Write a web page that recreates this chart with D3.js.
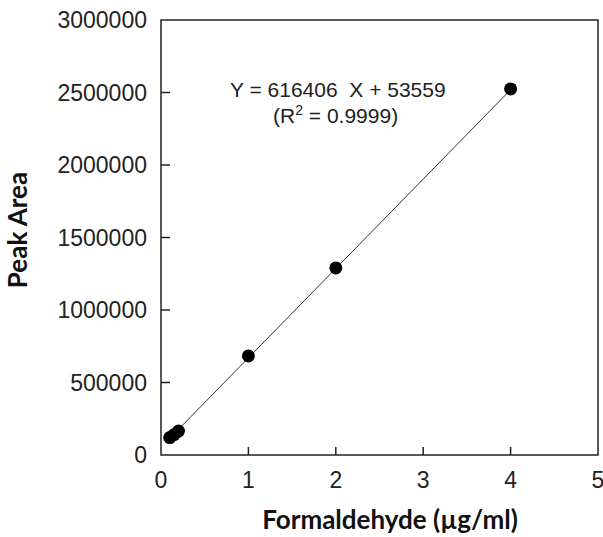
<!DOCTYPE html>
<html lang="en">
<head>
    <meta charset="UTF-8">
    <title>Formaldehyde calibration curve</title>
    <script src="https://d3js.org/d3.v7.min.js"></script>
    <style>
        body { margin: 0; background: #fff; }
        .tick-label { font-family: "Liberation Sans", Arial, sans-serif; font-size: 23px; fill: #222; }
        .axis-title { font-family: Lato, "Open Sans", sans-serif; font-weight: bold; font-size: 26px; fill: #111; }
        .eq { font-family: "Liberation Sans", Arial, sans-serif; font-size: 21px; fill: #222; }
    </style>
</head>
<body>
<svg width="603" height="537"></svg>
<script>
    // Calibration points
    const concentrations = [0.1, 0.15, 0.2, 1, 2, 4];
    const peakAreas = [120000, 140000, 165000, 683000, 1290000, 2525000];
    // Regression from the figure
    const slope = 616406, intercept = 53559;
    const xTicks = [0, 1, 2, 3, 4, 5];
    const yTicks = [0, 500000, 1000000, 1500000, 2000000, 2500000, 3000000];

    const svg = d3.select("svg");
    const margin = { top: 20, right: 5, bottom: 82, left: 161 };
    const width = 603 - margin.left - margin.right,
          height = 537 - margin.top - margin.bottom;
    const g = svg.append("g").attr("transform", `translate(${margin.left},${margin.top})`);

    const x = d3.scaleLinear().domain([0, 5]).range([0, width]);
    const y = d3.scaleLinear().domain([0, 3000000]).range([height, 0]);

    // frame
    g.append("rect").attr("width", width).attr("height", height)
        .attr("fill", "none").attr("stroke", "#222").attr("stroke-width", 1.5);

    // inward ticks
    g.selectAll(".xt").data(xTicks.slice(1, -1)).enter().append("line")
        .attr("x1", d => x(d)).attr("x2", d => x(d))
        .attr("y1", height).attr("y2", height - 8)
        .attr("stroke", "#222").attr("stroke-width", 1.5);
    g.selectAll(".yt").data(yTicks.slice(1, -1)).enter().append("line")
        .attr("x1", 0).attr("x2", 9)
        .attr("y1", d => y(d)).attr("y2", d => y(d))
        .attr("stroke", "#222").attr("stroke-width", 1.5);

    // tick labels
    g.selectAll(".xl").data(xTicks).enter().append("text")
        .attr("class", "tick-label")
        .attr("x", d => x(d)).attr("y", height + 33)
        .attr("text-anchor", "middle")
        .text(d => d);
    g.selectAll(".yl").data(yTicks).enter().append("text")
        .attr("class", "tick-label")
        .attr("x", -14).attr("y", d => y(d) + 8)
        .attr("text-anchor", "end")
        .text(d => d);

    // fitted line across the measured range
    const [x0, x1] = d3.extent(concentrations);
    g.append("line")
        .attr("x1", x(x0)).attr("y1", y(slope * x0 + intercept))
        .attr("x2", x(x1)).attr("y2", y(slope * x1 + intercept))
        .attr("stroke", "#333").attr("stroke-width", 1);

    // points
    g.selectAll("circle").data(concentrations).enter().append("circle")
        .attr("cx", d => x(d))
        .attr("cy", (d, i) => y(peakAreas[i]))
        .attr("r", 6.5).attr("fill", "#000");

    // equation
    g.append("text").attr("class", "eq").attr("x", 69).attr("y", 77)
        .attr("xml:space", "preserve")
        .text("Y = 616406  X + 53559");
    const r2 = g.append("text").attr("class", "eq").attr("x", 112).attr("y", 103);
    r2.append("tspan").text("(R");
    r2.append("tspan").attr("font-size", "14px").attr("dy", -8).text("2");
    r2.append("tspan").attr("dy", 8).text(" = 0.9999)");

    // axis titles
    svg.append("text").attr("class", "axis-title")
        .attr("text-anchor", "middle")
        .attr("x", 390).attr("y", 529)
        .text("Formaldehyde (µg/ml)");
    svg.append("text").attr("class", "axis-title")
        .attr("text-anchor", "middle")
        .attr("transform", "translate(27,230) rotate(-90)")
        .text("Peak Area");
</script>
</body>
</html>
